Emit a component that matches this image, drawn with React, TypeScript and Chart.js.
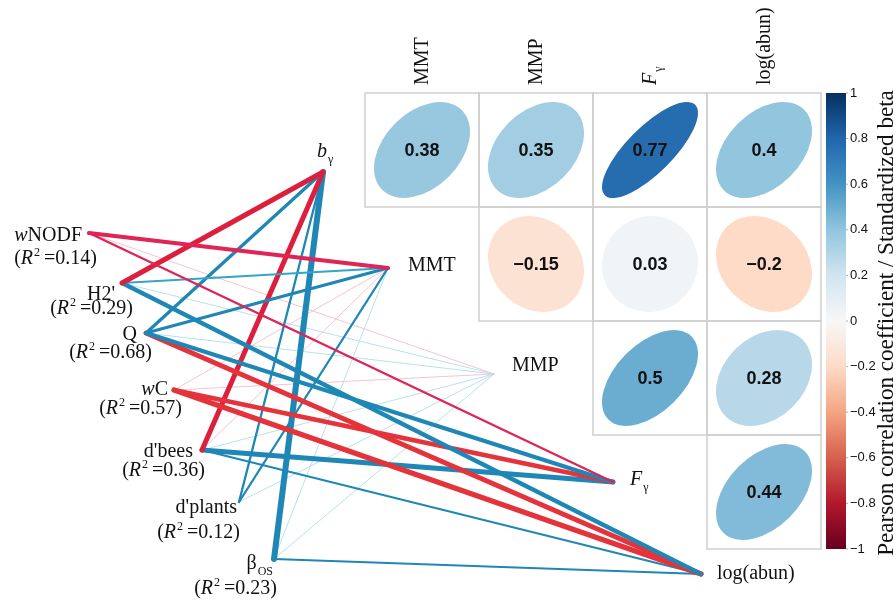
import React, { useEffect, useRef } from "react";
import { Chart, registerables } from "chart.js";

Chart.register(...registerables);

// ---------------- data ----------------
const envNames = ["bγ", "MMT", "MMP", "Fγ", "log(abun)"];
const corrColNames = ["MMT", "MMP", "Fγ", "log(abun)"];
const corrRowNames = ["bγ", "MMT", "MMP", "Fγ"];
const corrBgamma = [0.38, 0.35, 0.77, 0.4];
const corrMMT = [null, -0.15, 0.03, -0.2];
const corrMMP = [null, null, 0.5, 0.28];
const corrFgamma = [null, null, null, 0.44];

const specNames = ["wNODF", "H2'", "Q", "wC", "d'bees", "d'plants", "βOS"];
const specR2 = [0.14, 0.29, 0.68, 0.57, 0.36, 0.12, 0.23];

// links: spec node -> env node, standardized beta, significance class
const linkFrom = ["wNODF", "wNODF", "wNODF", "H2'", "H2'", "H2'", "H2'", "Q", "Q", "Q", "Q", "Q", "wC", "wC", "wC", "wC", "d'bees", "d'bees", "d'bees", "d'bees", "d'bees", "d'plants", "d'plants", "d'plants", "βOS", "βOS", "βOS", "βOS"];
const linkTo = ["MMT", "MMP", "Fγ", "bγ", "MMT", "MMP", "log(abun)", "bγ", "MMT", "MMP", "Fγ", "log(abun)", "MMT", "MMP", "Fγ", "log(abun)", "bγ", "MMT", "MMP", "Fγ", "log(abun)", "bγ", "MMT", "MMP", "bγ", "MMT", "MMP", "log(abun)"];
const linkBeta = [-0.42, -0.08, -0.24, -0.5, 0.2, 0.08, 0.42, 0.33, 0.32, 0.08, 0.4, -0.5, -0.08, -0.08, -0.47, -0.52, -0.5, -0.08, 0.08, 0.5, 0.2, 0.23, 0.23, 0.08, 0.6, 0.08, 0.08, 0.2];
const linkSig = ["b", "ns", "b", "a", "c", "ns", "a", "a", "a", "ns", "a", "c", "ns", "ns", "c", "c", "a", "ns", "ns", "a", "a", "a", "a", "ns", "a", "ns", "ns", "a"];

const cbTicks = [1, 0.8, 0.6, 0.4, 0.2, 0, -0.2, -0.4, -0.6, -0.8, -1];
const rdbu = ["#67001F", "#B2182B", "#D6604D", "#F4A582", "#FDDBC7", "#F7F7F7", "#D1E5F0", "#92C5DE", "#4393C3", "#2166AC", "#053061"];
const cbTitle = "Pearson correlation coefficient / Standardized beta";

// ---------------- layout (pixels in data space) ----------------
const W = 896;
const H = 604;
const gridX0 = 365;
const gridY0 = 93;
const cell = 114;
const ellR = 48;
const envDotX = [323, 388, 494, 613, 701];
const envDotY = [172, 268, 374, 482, 574];
const specDotX = [89, 122, 146, 174, 202, 239, 274];
const specDotY = [233, 283, 333, 390, 450, 502, 559];
const specLabelX = [82, 115, 137, 168, 193, 237, 273];
const specLabelY = [241, 300, 340, 395, 457, 513, 569];
const specR2X = [97, 133, 152, 182, 205, 240, 277];
const specR2Y = [264, 314, 358, 414, 476, 538, 594];
const envLabelX = [317, 408, 512, 630, 717];
const envLabelY = [157, 271, 371, 485, 579];
const cbX0 = 826;
const cbX1 = 846;

const SERIF = '"Liberation Serif", "Times New Roman", serif';
const SANS = '"Liberation Sans", Arial, sans-serif';

type Seg = { t: string; it?: boolean; sub?: boolean; sup?: boolean };

function richName(n: string): Seg[] {
  if (n === "bγ") return [{ t: "b", it: true }, { t: "γ", sub: true }];
  if (n === "Fγ") return [{ t: "F", it: true }, { t: "γ", sub: true }];
  if (n === "βOS") return [{ t: "β" }, { t: "OS", sub: true }];
  if (n === "wNODF") return [{ t: "w", it: true }, { t: "NODF" }];
  if (n === "wC") return [{ t: "w", it: true }, { t: "C" }];
  return [{ t: n }];
}

function segFont(s: Seg, size: number) {
  const sz = s.sub || s.sup ? Math.round(size * 0.62) : size;
  return `${s.it ? "italic " : ""}${sz}px ${SERIF}`;
}

function richWidth(ctx: CanvasRenderingContext2D, segs: Seg[], size: number) {
  let w = 0;
  for (const s of segs) {
    ctx.font = segFont(s, size);
    w += ctx.measureText(s.t).width + (s.sub || s.sup ? 1 : 0);
  }
  return w;
}

function drawRich(ctx: CanvasRenderingContext2D, segs: Seg[], x: number, y: number, size: number, align: "left" | "right" | "center") {
  const w = richWidth(ctx, segs, size);
  let cx = align === "left" ? x : align === "right" ? x - w : x - w / 2;
  ctx.textAlign = "left";
  ctx.textBaseline = "alphabetic";
  ctx.fillStyle = "#111";
  for (const s of segs) {
    ctx.font = segFont(s, size);
    const dy = s.sub ? size * 0.28 : s.sup ? -size * 0.38 : 0;
    if (s.sub || s.sup) cx += 1;
    ctx.fillText(s.t, cx, y + dy);
    cx += ctx.measureText(s.t).width;
  }
}

function hexToRgb(h: string) {
  const v = parseInt(h.slice(1), 16);
  return [(v >> 16) & 255, (v >> 8) & 255, v & 255];
}

function corrColor(r: number) {
  const p = ((r + 1) / 2) * (rdbu.length - 1);
  const i = Math.min(rdbu.length - 2, Math.max(0, Math.floor(p)));
  const f = p - i;
  const a = hexToRgb(rdbu[i]);
  const b = hexToRgb(rdbu[i + 1]);
  const c = a.map((v, k) => Math.round(v + (b[k] - v) * f));
  return `rgb(${c[0]},${c[1]},${c[2]})`;
}

function linkColor(beta: number, sig: string) {
  if (beta < 0) {
    if (sig === "a") return "#DC1F3C";
    if (sig === "b") return "#DF2456";
    if (sig === "c") return "#E4333B";
    return "#F6C3CF";
  }
  if (sig === "c") return "#33A5CA";
  if (sig === "ns") return "#B7E1EE";
  return "#1F87B5";
}

function fmtTick(v: number) {
  const s = String(Math.abs(v));
  return v < 0 ? "\u2212" + s : s;
}

const corrMatrix = [corrBgamma, corrMMT, corrMMP, corrFgamma];

const decorPlugin = {
  id: "decor",
  afterDatasetsDraw(chart: any) {
    const ctx: CanvasRenderingContext2D = chart.ctx;
    const xs = chart.scales.x;
    const ys = chart.scales.y;
    const px = (v: number) => xs.getPixelForValue(v);
    const py = (v: number) => ys.getPixelForValue(v);
    ctx.save();

    // cells + ellipses
    corrMatrix.forEach((row, ri) => {
      row.forEach((val, ci) => {
        if (val === null || val === undefined) return;
        const x0 = px(gridX0 + ci * cell);
        const y0 = py(gridY0 + ri * cell);
        const x1 = px(gridX0 + (ci + 1) * cell);
        const y1 = py(gridY0 + (ri + 1) * cell);
        ctx.strokeStyle = "#CFCFCF";
        ctx.lineWidth = 1.5;
        ctx.strokeRect(x0, y0, x1 - x0, y1 - y0);
        const cx = (x0 + x1) / 2;
        const cy = (y0 + y1) / 2;
        const R = px(gridX0 + ellR) - px(gridX0);
        const a = R * Math.sqrt(1 + val);
        const b = R * Math.sqrt(1 - val);
        ctx.save();
        ctx.translate(cx, cy);
        ctx.rotate(-Math.PI / 4);
        ctx.beginPath();
        ctx.ellipse(0, 0, a, b, 0, 0, Math.PI * 2);
        ctx.fillStyle = corrColor(val);
        ctx.fill();
        ctx.restore();
        ctx.fillStyle = "#111";
        ctx.font = `bold 18px ${SANS}`;
        ctx.textAlign = "center";
        ctx.textBaseline = "middle";
        ctx.fillText(fmtTick(val), cx, cy + 1);
      });
    });

    // column headers (rotated)
    corrColNames.forEach((n, ci) => {
      const cx = px(gridX0 + (ci + 0.5) * cell);
      ctx.save();
      ctx.translate(cx + 6, py(85));
      ctx.rotate(-Math.PI / 2);
      drawRich(ctx, richName(n), 0, 0, 20, "left");
      ctx.restore();
    });

    // env node labels
    envNames.forEach((n, i) => {
      drawRich(ctx, richName(n), px(envLabelX[i]), py(envLabelY[i]), 20, "left");
    });

    // spec node labels
    specNames.forEach((n, i) => {
      drawRich(ctx, richName(n), px(specLabelX[i]), py(specLabelY[i]), 20, "right");
      const segs: Seg[] = [{ t: "(" }, { t: "R", it: true }, { t: "2", sup: true }, { t: "\u2009=" + specR2[i].toFixed(2) + ")" }];
      drawRich(ctx, segs, px(specR2X[i]), py(specR2Y[i]), 20, "right");
    });

    // colorbar
    const top = py(gridY0);
    const bot = py(gridY0 + 4 * cell);
    const g = ctx.createLinearGradient(0, top, 0, bot);
    rdbu.slice().reverse().forEach((c, i) => g.addColorStop(i / (rdbu.length - 1), c));
    ctx.fillStyle = g;
    ctx.fillRect(px(cbX0), top, px(cbX1) - px(cbX0), bot - top);
    ctx.strokeStyle = "#9a9a9a";
    ctx.lineWidth = 0.8;
    ctx.font = `13px ${SANS}`;
    ctx.fillStyle = "#111";
    ctx.textAlign = "left";
    ctx.textBaseline = "middle";
    cbTicks.forEach((t) => {
      const y = top + ((1 - t) / 2) * (bot - top);
      ctx.beginPath();
      ctx.moveTo(px(cbX1), y);
      ctx.lineTo(px(cbX1) + 2, y);
      ctx.stroke();
      ctx.fillText(fmtTick(t), px(cbX1) + 4, y);
    });

    // colorbar title, sized to span the bar
    ctx.save();
    ctx.translate(px(893), (top + bot) / 2 + 2);
    ctx.rotate(-Math.PI / 2);
    ctx.font = `20px ${SERIF}`;
    const tw = ctx.measureText(cbTitle).width;
    const fs = Math.min(24, (20 * 466) / tw);
    ctx.font = `${fs.toFixed(1)}px ${SERIF}`;
    ctx.textAlign = "center";
    ctx.textBaseline = "alphabetic";
    ctx.fillStyle = "#111";
    ctx.fillText(cbTitle, 0, 0);
    ctx.restore();

    ctx.restore();
  },
};

export default function App() {
  const ref = useRef<HTMLCanvasElement | null>(null);
  useEffect(() => {
    document.body.style.margin = "0";
    const canvas = ref.current;
    if (!canvas) return;
    const datasets = linkFrom.map((f, i) => {
      const si = specNames.indexOf(f);
      const ei = envNames.indexOf(linkTo[i]);
      const beta = linkBeta[i];
      const sig = linkSig[i];
      return {
        data: [
          { x: specDotX[si], y: specDotY[si] },
          { x: envDotX[ei], y: envDotY[ei] },
        ],
        showLine: true,
        borderColor: linkColor(beta, sig),
        backgroundColor: linkColor(beta, sig),
        borderWidth: sig === "ns" ? 1 : Math.abs(beta) * 10,
        borderCapStyle: "round" as const,
        pointRadius: 0,
        fill: false,
        clip: false as any,
        order: sig === "ns" ? 2 : 1,
      };
    });
    const chart = new Chart(canvas, {
      type: "scatter",
      data: { datasets },
      options: {
        animation: false,
        responsive: false,
        maintainAspectRatio: false,
        events: [],
        layout: { padding: 0 },
        plugins: { legend: { display: false }, tooltip: { enabled: false } },
        scales: {
          x: { type: "linear", display: false, min: 0, max: W },
          y: { type: "linear", display: false, min: 0, max: H, reverse: true },
        },
      },
      plugins: [decorPlugin],
    } as any);
    return () => chart.destroy();
  }, []);
  return (
    <div style={{ width: W, height: H, background: "#fff" }}>
      <canvas ref={ref} width={W} height={H} style={{ display: "block", width: W, height: H }} />
    </div>
  );
}
